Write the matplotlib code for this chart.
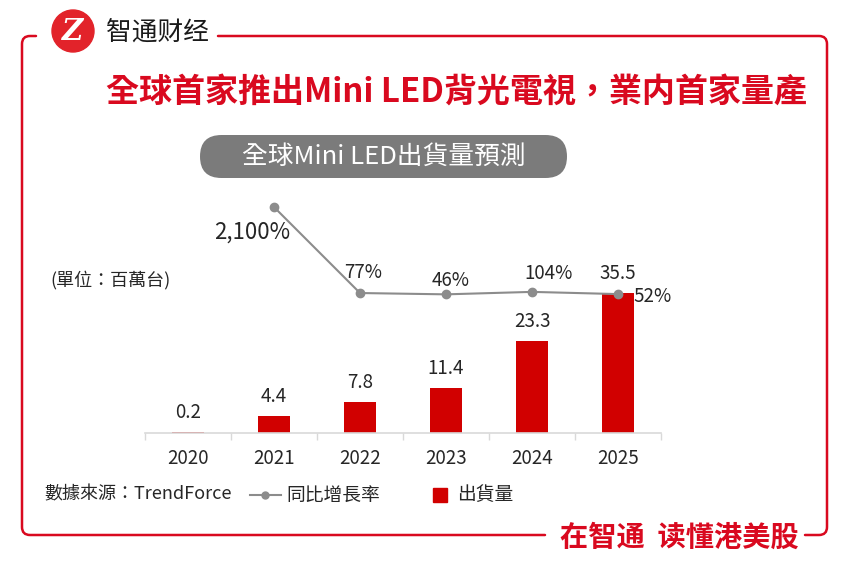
import matplotlib
matplotlib.use("Agg")
from matplotlib import pyplot as plt
from matplotlib.patches import Circle, FancyBboxPatch
from matplotlib.path import Path
from matplotlib.patches import PathPatch

# data
years = ["2020", "2021", "2022", "2023", "2024", "2025"]
shipments = [0.2, 4.4, 7.8, 11.4, 23.3, 35.5]
shipment_labels = ["0.2", "4.4", "7.8", "11.4", "23.3", "35.5"]
growth_years = ["2021", "2022", "2023", "2024", "2025"]
growth = [2100, 77, 46, 104, 52]
growth_labels = ["2,100%", "77%", "46%", "104%", "52%"]

RED = "#d9091f"
BAR_RED = "#d10000"
GREY_LINE = "#8c8c8c"
TEXT = "#262626"
FONTS = ["Noto Sans CJK TC", "DejaVu Sans"]

plt.rcParams["font.family"] = FONTS

W, H = 850, 577
fig = plt.figure(figsize=(W / 100, H / 100), dpi=100)
fig.patch.set_facecolor("white")

# overlay in pixel coordinates for the decorations
deco = fig.add_axes([0, 0, 1, 1])
deco.set_xlim(0, W)
deco.set_ylim(H, 0)
deco.axis("off")

# red frame with rounded corners, gaps for logo and slogan
r = 8
L, R_, T, B = 22, 827, 36, 535
verts = [(218, T), (R_ - r, T), (R_, T), (R_, T + r), (R_, B - r), (R_, B), (R_ - r, B), (805, B)]
codes = [Path.MOVETO, Path.LINETO, Path.CURVE3, Path.CURVE3, Path.LINETO, Path.CURVE3, Path.CURVE3, Path.LINETO]
deco.add_patch(PathPatch(Path(verts, codes), fill=False, edgecolor=RED, lw=1.8, capstyle="round"))
verts = [(545, B), (L + r, B), (L, B), (L, B - r), (L, T + r), (L, T), (L + r, T), (36, T)]
deco.add_patch(PathPatch(Path(verts, codes), fill=False, edgecolor=RED, lw=1.8, capstyle="round"))

# logo
deco.add_patch(Circle((73, 31), 21, color="#e2232a"))
deco.text(73, 32, "Z", color="white", fontsize=21, fontweight="bold", style="italic",
          ha="center", va="center", family=["DejaVu Serif"])
deco.text(106, 33, "智通财经", fontsize=18.5, color="#1a1a1a", ha="left", va="center",
          family=["Noto Sans CJK SC", "DejaVu Sans"])

# title
deco.text(456, 92, "全球首家推出Mini LED背光電視，業内首家量產", fontsize=23.8, fontweight="bold",
          color=RED, ha="center", va="center")

# grey pill subtitle
deco.add_patch(FancyBboxPatch((200, 135), 367, 43, boxstyle="round,pad=0,rounding_size=21.5",
                              facecolor="#7b7b7b", edgecolor="none"))
deco.text(384, 156.5, "全球Mini LED出貨量預測", fontsize=18.5, color="white", ha="center", va="center")

# unit
deco.text(50, 280, "(單位：百萬台)", fontsize=13, color=TEXT, ha="left", va="center")

# source and legend
deco.text(44, 494, "數據來源：TrendForce", fontsize=13, color=TEXT, ha="left", va="center")
deco.plot([250, 281], [495, 495], color=GREY_LINE, lw=1.5)
deco.plot([265], [495], "o", color=GREY_LINE, ms=5)
deco.text(286, 495, "同比增長率", fontsize=13.5, color=TEXT, ha="left", va="center")
deco.add_patch(plt.Rectangle((433, 488), 14, 14, color=BAR_RED))
deco.text(457, 495, "出貨量", fontsize=13.5, color=TEXT, ha="left", va="center")

# slogan
deco.text(679, 538, "在智通  读懂港美股", fontsize=20.3, fontweight="bold", color=RED,
          ha="center", va="center", family=["Noto Sans CJK SC", "DejaVu Sans"])

# chart axes: baseline at y=433 px, 3.94 px per unit
ax_bottom = 433
ax_top = 180
ax = fig.add_axes([145 / W, (H - ax_bottom) / H, 516 / W, (ax_bottom - ax_top) / H])
ax.set_facecolor("none")
x = list(range(len(years)))
bars = ax.bar(x, shipments, width=0.37, color=BAR_RED, zorder=2)
ax.set_xlim(-0.5, 5.5)
ax.set_ylim(0, (ax_bottom - ax_top) / 3.94)
for xi, v, lab in zip(x, shipments, shipment_labels):
    ax.annotate(lab, (xi, v), xytext=(0, 14), textcoords="offset points",
                ha="center", va="center", fontsize=13.5, color=TEXT)

for s in ["top", "right", "left"]:
    ax.spines[s].set_visible(False)
ax.spines["bottom"].set_color("#d9d9d9")
ax.spines["bottom"].set_linewidth(1.2)
ax.set_yticks([])
ax.set_xticks(x)
ax.set_xticklabels(years, fontsize=13.5, color=TEXT)
ax.tick_params(axis="x", length=0, pad=11)
ax.set_xticks([i - 0.5 for i in range(len(years) + 1)], minor=True)
ax.tick_params(axis="x", which="minor", length=5, color="#d9d9d9", width=1)

# growth line on twin axis, 0% at y=296 px, 0.0425 px per %
ax2 = ax.twinx()
k = 0.0425
zero_px = ax_bottom - 296.3
ax2.set_ylim(-zero_px / k, (ax_bottom - ax_top - zero_px) / k)
gx = [years.index(y) for y in growth_years]
ax2.plot(gx, growth, color=GREY_LINE, lw=1.5, marker="o", ms=6, zorder=3)
ax2.axis("off")
offsets = [(-16, -18), (2, 15), (3, 10), (12, 13), (25, -2)]
for xi, v, lab, off in zip(gx, growth, growth_labels, offsets):
    ax2.annotate(lab, (xi, v), xytext=off, textcoords="offset points",
                 ha="center", va="center", fontsize=16 if v > 1000 else 13.5, color=TEXT)

fig.savefig("out.png", dpi=100, facecolor="white")
